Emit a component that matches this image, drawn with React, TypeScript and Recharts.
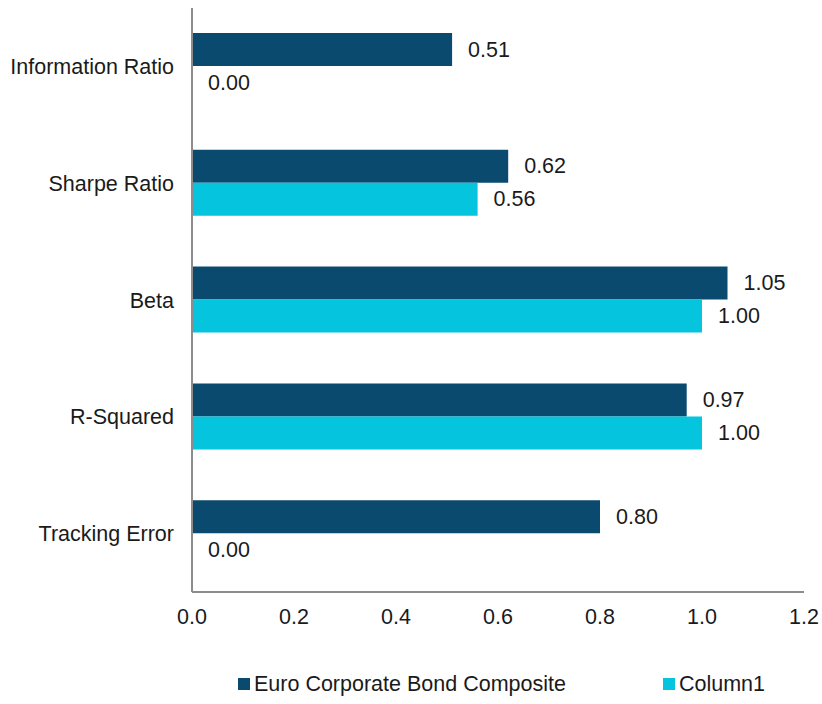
import React from 'react';
import { BarChart, Bar, XAxis, YAxis, Legend, LabelList } from 'recharts';

const categories = ['Information Ratio', 'Sharpe Ratio', 'Beta', 'R-Squared', 'Tracking Error'];
const composite = [0.51, 0.62, 1.05, 0.97, 0.8];
const column1 = [0.0, 0.56, 1.0, 1.0, 0.0];
const xTicks = [0, 0.2, 0.4, 0.6, 0.8, 1.0, 1.2];

const DARK = '#0A4A6E';
const CYAN = '#04C4DE';
const FONT = '"Liberation Sans", Arial, sans-serif';
const FS = 21.5;

const data = categories.map((name, i) => ({
  name,
  composite: composite[i],
  column1: column1[i],
}));

const legendItems = [
  { label: 'Euro Corporate Bond Composite', color: DARK },
  { label: 'Column1', color: CYAN },
];

const ChartLegend = () => (
  <div
    style={{
      height: 40,
      display: 'flex',
      alignItems: 'center',
      paddingLeft: 238,
      boxSizing: 'border-box',
      fontFamily: FONT,
      fontSize: FS,
      color: '#1a1a1a',
    }}
  >
    {legendItems.map((item, i) => (
      <div key={item.label} style={{ display: 'flex', alignItems: 'center', marginRight: i === 0 ? 97 : 0 }}>
        <span style={{ width: 12, height: 12, background: item.color, marginRight: 4, display: 'inline-block' }} />
        <span>{item.label}</span>
      </div>
    ))}
  </div>
);

// value label drawn to the right of the bar end, also for zero-length bars
const ValueLabel = (props: any) => {
  const { x, y, width, height, value } = props;
  const v = Number(value ?? 0);
  return (
    <text
      x={Number(x) + Math.max(Number(width) || 0, 0) + 16}
      y={Number(y) + Number(height) / 2}
      dominantBaseline="central"
      fill="#1a1a1a"
      fontSize={FS}
      fontFamily={FONT}
    >
      {v.toFixed(2)}
    </text>
  );
};

const App: React.FC = () => {
  return (
    <div style={{ position: 'absolute', left: 0, top: 0, background: '#fff' }}>
      <BarChart
        width={822}
        height={704}
        data={data}
        layout="vertical"
        margin={{ top: 8, right: 18, left: 0, bottom: 0 }}
        barSize={33}
        barGap={0}
      >
        <XAxis
          type="number"
          domain={[0, 1.2]}
          ticks={xTicks}
          tickFormatter={(v: number) => v.toFixed(1)}
          height={72}
          axisLine={{ stroke: '#8c8c8c', strokeWidth: 2 }}
          tickLine={false}
          tickSize={0}
          tickMargin={17}
          tick={{ fill: '#1a1a1a', fontSize: FS, fontFamily: FONT }}
        />
        <YAxis
          type="category"
          dataKey="name"
          width={192}
          axisLine={{ stroke: '#8c8c8c', strokeWidth: 2 }}
          tickLine={false}
          tickSize={0}
          tickMargin={18}
          tick={{ fill: '#1a1a1a', fontSize: FS, fontFamily: FONT }}
        />
        <Legend verticalAlign="bottom" height={40} content={() => <ChartLegend />} wrapperStyle={{ left: 0, width: 822 }} />
        <Bar dataKey="composite" fill={DARK} isAnimationActive={false} minPointSize={0.01}>
          <LabelList dataKey="composite" content={ValueLabel} />
        </Bar>
        <Bar dataKey="column1" fill={CYAN} isAnimationActive={false} minPointSize={0.01}>
          <LabelList dataKey="column1" content={ValueLabel} />
        </Bar>
      </BarChart>
    </div>
  );
};

export default App;
